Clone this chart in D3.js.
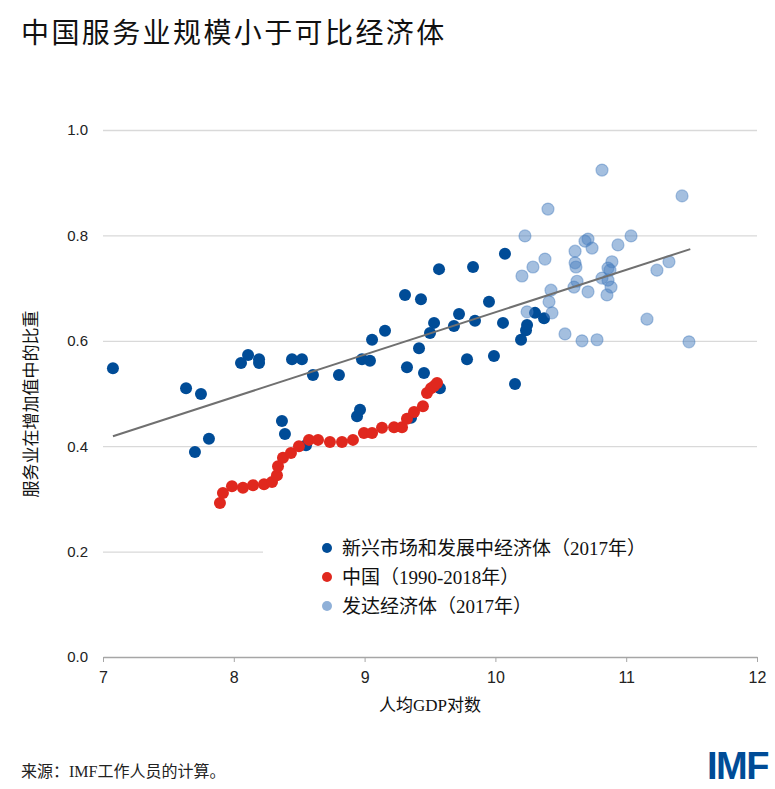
<!DOCTYPE html>
<html>
<head>
<meta charset="utf-8">
<script src="https://cdn.jsdelivr.net/npm/d3@7"></script>
<style>
  body { margin: 0; background: #fff; }
  svg { display: block; }
</style>
</head>
<body>
<div id="chart"></div>
<script>
// emerging markets and developing economies, 2017
const emX = [7.076, 7.635, 7.749, 7.703, 7.810, 8.055, 8.109, 8.193, 8.193, 8.445, 8.521, 8.368, 8.391, 8.552,
  8.605, 8.804, 8.942, 8.965, 8.980, 9.041, 9.057, 9.156, 9.309, 9.431, 9.569, 9.829, 9.416, 9.324, 9.454,
  9.531, 9.500, 9.722, 9.683, 9.844, 9.951, 9.783, 9.989, 10.073, 10.058, 10.242, 10.234, 10.196, 10.303,
  10.372, 10.150, 9.576, 9.355];
const emY = [0.548, 0.510, 0.499, 0.389, 0.414, 0.558, 0.573, 0.565, 0.558, 0.565, 0.565, 0.448, 0.423, 0.402,
  0.535, 0.535, 0.457, 0.469, 0.565, 0.562, 0.602, 0.619, 0.687, 0.679, 0.736, 0.740, 0.586, 0.550, 0.539,
  0.634, 0.615, 0.651, 0.628, 0.638, 0.674, 0.565, 0.571, 0.765, 0.634, 0.630, 0.620, 0.602, 0.653,
  0.643, 0.518, 0.510, 0.454];

// advanced economies, 2017
const aeX = [10.815, 11.427, 10.402, 10.226, 10.708, 10.685, 10.739, 11.037, 10.937, 10.609, 10.379, 10.287,
  10.203, 10.609, 10.616, 10.891, 10.861, 10.876, 10.815, 10.861, 10.624, 10.601, 10.884, 10.425, 10.708,
  10.853, 10.410, 10.242, 10.433, 11.327, 11.235, 11.159, 10.532, 10.662, 10.777, 11.480];
const aeY = [0.924, 0.875, 0.850, 0.799, 0.793, 0.789, 0.776, 0.799, 0.782, 0.770, 0.755, 0.740,
  0.723, 0.748, 0.740, 0.750, 0.738, 0.734, 0.719, 0.715, 0.713, 0.702, 0.702, 0.696, 0.693,
  0.687, 0.674, 0.655, 0.653, 0.750, 0.734, 0.641, 0.613, 0.600, 0.602, 0.598];

// China, 1990-2018
const cnX = [7.894, 7.917, 7.986, 8.070, 8.147, 8.231, 8.292, 8.330, 8.338, 8.376, 8.437, 8.498, 8.575, 8.644,
  8.735, 8.827, 8.911, 8.995, 9.057, 9.133, 9.225, 9.286, 9.324, 9.378, 9.446, 9.477, 9.508, 9.531, 9.554];
const cnY = [0.292, 0.311, 0.324, 0.321, 0.326, 0.328, 0.332, 0.345, 0.362, 0.378, 0.387, 0.400, 0.412, 0.412,
  0.408, 0.408, 0.412, 0.425, 0.425, 0.435, 0.436, 0.436, 0.452, 0.465, 0.476, 0.501, 0.510, 0.514, 0.520];

// fitted line
const trendX = [7.076, 11.49];
const trendY = [0.419, 0.774];

const xTicks = [7, 8, 9, 10, 11, 12];
const yTicks = [0, 0.2, 0.4, 0.6, 0.8, 1.0];

const legendLabels = ["新兴市场和发展中经济体（2017年）", "中国（1990-2018年）", "发达经济体（2017年）"];

const W = 775, H = 789;
const margin = { top: 130, right: 18, bottom: 132, left: 103 };
const width = W - margin.left - margin.right,
  height = H - margin.top - margin.bottom;

const darkBlue = "#004c97", red = "#e0281e", lightBlue = "#4a7fbf";
const sans = "'Liberation Sans', Arial, sans-serif";
const serif = "'Liberation Serif', 'Noto Sans CJK SC', serif";
const cjk = "'Noto Sans CJK SC', sans-serif";

const svg = d3.select("#chart").append("svg")
  .attr("width", W).attr("height", H);

svg.append("text")
  .attr("x", 21).attr("y", 43)
  .attr("font-family", cjk).attr("font-size", 28)
  .attr("letter-spacing", 2.4)
  .attr("fill", "#111")
  .text("中国服务业规模小于可比经济体");

const g = svg.append("g")
  .attr("transform", "translate(" + margin.left + "," + margin.top + ")");

const x = d3.scaleLinear().domain([7, 12]).range([0, width]);
const y = d3.scaleLinear().domain([0, 1]).range([height, 0]);

// gridlines + y labels
const yAxis = g.append("g")
  .call(d3.axisLeft(y).tickValues(yTicks).tickFormat(d3.format(".1f")).tickSize(-width).tickPadding(15));
yAxis.select(".domain").remove();
yAxis.selectAll(".tick line")
  .attr("stroke", "#d9d9d9").attr("stroke-width", 1.3)
  .filter(d => d === 0).remove();
yAxis.selectAll(".tick text")
  .attr("font-family", sans).attr("font-size", 15).attr("fill", "#222");

// x axis
const xAxis = g.append("g")
  .attr("transform", "translate(0," + height + ")")
  .call(d3.axisBottom(x).tickValues(xTicks).tickFormat(d3.format("d"))
    .tickSize(5).tickPadding(10).tickSizeOuter(0));
xAxis.select(".domain").attr("stroke", "#a6a6a6").attr("stroke-width", 1.3);
xAxis.selectAll(".tick line").attr("stroke", "#a6a6a6");
xAxis.selectAll(".tick text")
  .attr("font-family", sans).attr("font-size", 16).attr("fill", "#222");

// legend background hides part of the 0.2 gridline
g.append("rect")
  .attr("x", 160).attr("y", y(0.23))
  .attr("width", width - 160).attr("height", y(0.07) - y(0.23))
  .attr("fill", "#fff");

// points
g.append("g").selectAll("circle")
  .data(emX.map((d, i) => [d, emY[i]]))
  .join("circle")
  .attr("cx", d => x(d[0])).attr("cy", d => y(d[1])).attr("r", 6)
  .attr("fill", darkBlue);

g.append("g").selectAll("circle")
  .data(cnX.map((d, i) => [d, cnY[i]]))
  .join("circle")
  .attr("cx", d => x(d[0])).attr("cy", d => y(d[1])).attr("r", 6)
  .attr("fill", red);

g.append("g").selectAll("circle")
  .data(aeX.map((d, i) => [d, aeY[i]]))
  .join("circle")
  .attr("cx", d => x(d[0])).attr("cy", d => y(d[1])).attr("r", 6)
  .attr("fill", lightBlue).attr("fill-opacity", 0.5)
  .attr("stroke", lightBlue).attr("stroke-opacity", 0.45).attr("stroke-width", 1.2);

// trend line
g.append("path")
  .datum(trendX.map((d, i) => [d, trendY[i]]))
  .attr("fill", "none")
  .attr("stroke", "#707070")
  .attr("stroke-width", 2)
  .attr("d", d3.line().x(d => x(d[0])).y(d => y(d[1])));

// legend
const legendColors = [darkBlue, red, "#8fb0d8"];
const legend = svg.append("g").attr("transform", "translate(327,548)");
legendLabels.forEach((t, i) => {
  legend.append("circle")
    .attr("cx", 0).attr("cy", i * 29).attr("r", 5)
    .attr("fill", legendColors[i]);
  legend.append("text")
    .attr("x", 15).attr("y", i * 29 + 7)
    .attr("font-family", serif).attr("font-size", 19).attr("fill", "#111")
    .text(t);
});

// axis titles
svg.append("text")
  .attr("x", margin.left + x(9.5)).attr("y", 711)
  .attr("text-anchor", "middle")
  .attr("font-family", serif).attr("font-size", 17).attr("fill", "#111")
  .text("人均GDP对数");

svg.append("text")
  .attr("transform", "translate(37," + (margin.top + y(0.48)) + ") rotate(-90)")
  .attr("text-anchor", "middle")
  .attr("font-family", serif).attr("font-size", 17).attr("fill", "#111")
  .text("服务业在增加值中的比重");

// source + logo
svg.append("text")
  .attr("x", 21).attr("y", 777)
  .attr("font-family", serif).attr("font-size", 16).attr("fill", "#222")
  .text("来源：IMF工作人员的计算。");

svg.append("text")
  .attr("x", 768).attr("y", 779)
  .attr("text-anchor", "end")
  .attr("font-family", sans).attr("font-weight", "bold").attr("font-size", 38)
  .attr("letter-spacing", -1.5)
  .attr("fill", darkBlue)
  .text("IMF");
</script>
</body>
</html>
